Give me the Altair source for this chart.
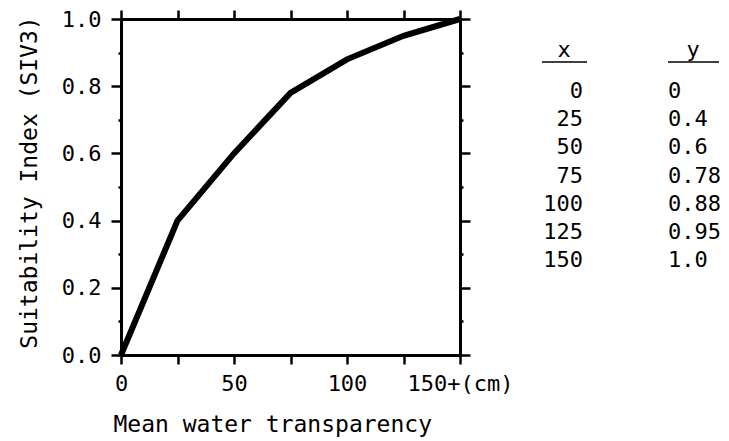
import altair as alt
import pandas as pd

# ---- data ----
x_vals = [0, 25, 50, 75, 100, 125, 150]
y_vals = [0, 0.4, 0.6, 0.78, 0.88, 0.95, 1.0]
x_text = ["0", "25", "50", "75", "100", "125", "150"]
y_text = ["0", "0.4", "0.6", "0.78", "0.88", "0.95", "1.0"]
x_ticks = [0, 25, 50, 75, 100, 125, 150]
y_ticks = [0, 0.1, 0.2, 0.3, 0.4, 0.5, 0.6, 0.7, 0.8, 0.9, 1.0]
headers = ["x", "y"]
x_title = "Mean water transparency"
y_title = "Suitability Index (SIV3)"
last_label = "150+(cm)"

FONT = "DejaVu Sans Mono"
W, H = 339, 336
NB = "\u00a0"

df = pd.DataFrame({"x": x_vals, "y": y_vals, "row": list(range(len(x_vals))),
                   "xt": x_text, "yt": y_text})

xs = alt.Scale(domain=[0, 150], nice=False, zero=False)
ys = alt.Scale(domain=[0, 1], nice=False, zero=False)

y_tick_size = {"condition": {"test": "round(datum.value*10) % 2 == 0", "value": 10}, "value": 3}

common = dict(domainColor="black", domainWidth=3, tickColor="black", tickWidth=2.5,
              grid=False, labelOverlap=False, labelFlush=False)

ax_bottom = alt.Axis(orient="bottom", values=x_ticks, tickSize=9,
                     labelExpr=("datum.value == 150 ? '" + NB * 5 + last_label +
                                "' : (datum.value % 50 == 0 ? datum.label : '')"),
                     labelFont=FONT, labelFontSize=22, labelColor="black", labelPadding=9,
                     title=x_title, titleFont=FONT, titleFontSize=23, titleFontWeight="normal",
                     titleColor="black", titleX=-8, titleY=76, titleAnchor="start",
                     titleAlign="left", titleBaseline="alphabetic", **common)
ax_left = alt.Axis(orient="left", values=y_ticks, tickSize=y_tick_size,
                   labelExpr="round(datum.value*10) % 2 == 0 ? format(datum.value, '.1f') : ''",
                   labelFont=FONT, labelFontSize=22, labelColor="black", labelPadding=10,
                   title=y_title, titleFont=FONT, titleFontSize=23, titleFontWeight="normal",
                   titleColor="black", titleAngle=270, titleX=-92, titleY=163,
                   titleAlign="center", titleBaseline="middle", **common)
ax_top = alt.Axis(orient="top", values=x_ticks, tickSize=9, labels=False, title=None, **common)
ax_right = alt.Axis(orient="right", values=y_ticks, tickSize=y_tick_size, labels=False,
                    title=None, **common)

line = alt.Chart(df).mark_line(color="black", strokeWidth=6, clip=False).encode(
    x=alt.X("x:Q", scale=xs, axis=ax_bottom),
    y=alt.Y("y:Q", scale=ys, axis=ax_left),
)
frame = alt.Chart(df).mark_point(opacity=0).encode(
    x=alt.X("x:Q", scale=xs, axis=ax_top),
    y=alt.Y("y:Q", scale=ys, axis=ax_right),
)

row_scale = alt.Scale(domain=[0, 6], range=[79, 248], nice=False, zero=False)
txt = dict(font=FONT, fontSize=22, color="black", baseline="alphabetic")

col_x = alt.Chart(df).mark_text(align="right", **txt).encode(
    x=alt.value(462), y=alt.Y("row:Q", scale=row_scale, axis=None), text="xt:N")
col_y = alt.Chart(df).mark_text(align="left", **txt).encode(
    x=alt.value(547), y=alt.Y("row:Q", scale=row_scale, axis=None), text="yt:N")

hx = alt.Chart(pd.DataFrame({"h": [headers[0]]})).mark_text(align="center", **txt).encode(
    x=alt.value(443), y=alt.value(38), text="h:N")
hy = alt.Chart(pd.DataFrame({"h": [headers[1]]})).mark_text(align="center", **txt).encode(
    x=alt.value(572), y=alt.value(38), text="h:N")
ux = alt.Chart(pd.DataFrame({"h": [headers[0]]})).mark_rule(color="black", strokeWidth=1.5).encode(
    x=alt.value(421), x2=alt.value(466), y=alt.value(43))
uy = alt.Chart(pd.DataFrame({"h": [headers[1]]})).mark_rule(color="black", strokeWidth=1.5).encode(
    x=alt.value(547), x2=alt.value(598), y=alt.value(43))

chart = alt.layer(line, frame, col_x, col_y, hx, hy, ux, uy).resolve_scale(
    y="independent").resolve_axis(x="independent", y="independent").properties(
    width=W, height=H,
    autosize=alt.AutoSizeParams(type="none"),
    padding={"left": 113, "top": 11, "right": 261, "bottom": 86},
    background="white",
).configure_view(stroke=None)

chart.save("out.html", embed_options={"renderer": "svg", "actions": False})
